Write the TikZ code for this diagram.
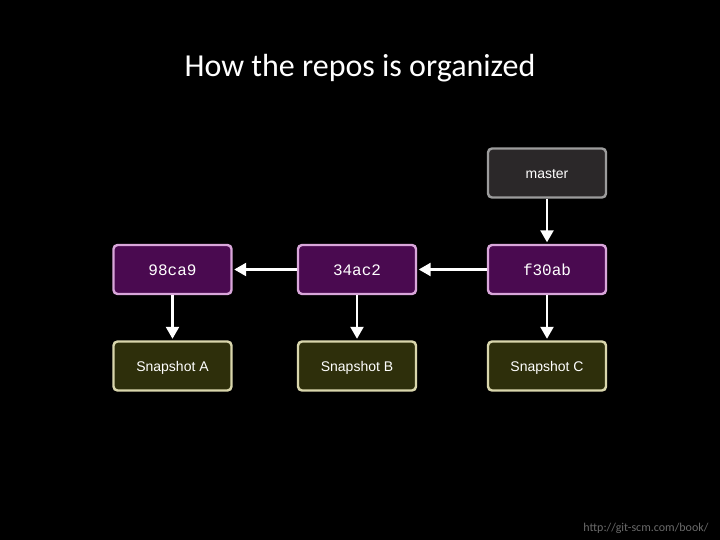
\documentclass[tikz,border=0pt]{standalone}
\usepackage{fontspec}
\setmainfont{Carlito}
\newfontfamily\boxsans{Liberation Sans}
\newfontfamily\boxmono{Liberation Mono}
\usetikzlibrary{arrows.meta}
\definecolor{mastfill}{HTML}{2B2829}
\definecolor{mastdraw}{HTML}{9C9C9C}
\definecolor{comfill}{HTML}{4A0A50}
\definecolor{comdraw}{HTML}{D9A6DA}
\definecolor{snapfill}{HTML}{2E2F0B}
\definecolor{snapdraw}{HTML}{D9D6AC}
\definecolor{footgray}{HTML}{6A6A6A}
\tikzset{
  boxbase/.style={rounded corners=4pt, line width=2.4pt, minimum width=118pt, minimum height=49pt, text=white, inner sep=0pt, text height=13pt, text depth=1.5pt},
  mastbox/.style={boxbase, fill=mastfill, draw=mastdraw, font=\boxsans\fontsize{14}{16}\selectfont},
  combox/.style={boxbase, fill=comfill, draw=comdraw, font=\boxmono\fontsize{16}{18}\selectfont},
  snapbox/.style={boxbase, fill=snapfill, draw=snapdraw, font=\boxsans\fontsize{14}{16}\selectfont},
  conn/.style={white, line width=2.4pt, -{Triangle[length=12pt,width=13pt]}, shorten >=1.5pt}
}
\begin{document}
\begin{tikzpicture}[x=1pt,y=-1pt]
\fill[black] (0,0) rectangle (720,540);
\useasboundingbox (0,0) rectangle (720,540);
\node[text=white, font=\fontsize{32}{36}\selectfont, anchor=base] (title) at (360,77) {How the repos is organized};
\node[mastbox] (master) at (547,173) {master};
\node[combox] (c1) at (172.5,269.5) {98ca9};
\node[combox] (c2) at (357,269.5) {34ac2};
\node[combox] (c3) at (547,269.5) {f30ab};
\node[snapbox] (s1) at (172.5,366) {Snapshot A};
\node[snapbox] (s2) at (357,366) {Snapshot B};
\node[snapbox] (s3) at (547,366) {Snapshot C};
\draw[conn] (master) -- (c3);
\draw[conn] (c3) -- (c2);
\draw[conn] (c2) -- (c1);
\draw[conn] (c1) -- (s1);
\draw[conn] (c2) -- (s2);
\draw[conn] (c3) -- (s3);
\node[text=footgray, font=\fontsize{12}{14}\selectfont, anchor=base east] (foot) at (712,531) {http://git-scm.com/book/};
\end{tikzpicture}
\end{document}
